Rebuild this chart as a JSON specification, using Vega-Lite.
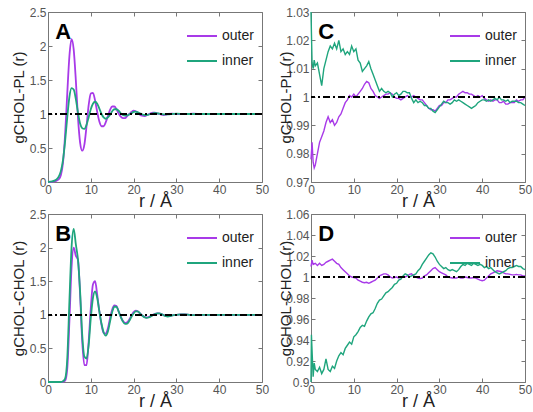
{
  "$schema": "https://vega.github.io/schema/vega-lite/v6.json",
  "background": "white",
  "padding": {"left": 10, "top": 5, "right": 0, "bottom": 0},
  "bounds": "flush",
  "spacing": {"row": 32, "column": 49},
  "config": {
    "font": "Liberation Sans",
    "view": {"stroke": "#777", "strokeWidth": 1},
    "axis": {"grid": false, "domain": false, "labelColor": "#555", "labelFontSize": 12, "tickColor": "#777", "tickSize": -4, "labelPadding": 6, "titleColor": "#222", "titleFontWeight": "normal", "labelFlush": false, "labelOverlap": false},
    "axisX": {"titleFontSize": 18, "titlePadding": -3},
    "axisY": {"titleFontSize": 15, "titlePadding": 3},
    "legend": {"orient": "top-right", "title": null, "symbolType": "stroke", "symbolSize": 900, "symbolStrokeWidth": 2, "labelFontSize": 14, "labelColor": "#222", "rowPadding": 2, "offset": 8}
  },
  "datasets": {
    "A": [
      {"r":0,"s":"outer","g":0},{"r":0.5,"s":"outer","g":0},{"r":1,"s":"outer","g":0.005},{"r":1.5,"s":"outer","g":0.01},{"r":2,"s":"outer","g":0.02},{"r":2.5,"s":"outer","g":0.04},{"r":3,"s":"outer","g":0.1},{"r":3.5,"s":"outer","g":0.28},{"r":4,"s":"outer","g":0.7},{"r":4.5,"s":"outer","g":1.3},{"r":5,"s":"outer","g":1.85},{"r":5.5,"s":"outer","g":2.1},{"r":6,"s":"outer","g":1.95},{"r":6.5,"s":"outer","g":1.5},{"r":7,"s":"outer","g":0.95},{"r":7.5,"s":"outer","g":0.58},{"r":8,"s":"outer","g":0.46},{"r":8.5,"s":"outer","g":0.55},{"r":9,"s":"outer","g":0.82},{"r":9.5,"s":"outer","g":1.13},{"r":10,"s":"outer","g":1.3},{"r":10.5,"s":"outer","g":1.31},{"r":11,"s":"outer","g":1.2},{"r":11.5,"s":"outer","g":1.03},{"r":12,"s":"outer","g":0.89},{"r":12.5,"s":"outer","g":0.82},{"r":13,"s":"outer","g":0.82},{"r":13.5,"s":"outer","g":0.88},{"r":14,"s":"outer","g":0.97},{"r":14.5,"s":"outer","g":1.06},{"r":15,"s":"outer","g":1.11},{"r":15.5,"s":"outer","g":1.11},{"r":16,"s":"outer","g":1.07},{"r":16.5,"s":"outer","g":1.01},{"r":17,"s":"outer","g":0.96},{"r":17.5,"s":"outer","g":0.94},{"r":18,"s":"outer","g":0.94},{"r":18.5,"s":"outer","g":0.97},{"r":19,"s":"outer","g":1.0},{"r":19.5,"s":"outer","g":1.03},{"r":20,"s":"outer","g":1.05},{"r":20.5,"s":"outer","g":1.04},{"r":21,"s":"outer","g":1.02},{"r":21.5,"s":"outer","g":0.99},{"r":22,"s":"outer","g":0.975},{"r":22.5,"s":"outer","g":0.97},{"r":23,"s":"outer","g":0.98},{"r":23.5,"s":"outer","g":0.995},{"r":24,"s":"outer","g":1.01},{"r":24.5,"s":"outer","g":1.02},{"r":25,"s":"outer","g":1.02},{"r":25.5,"s":"outer","g":1.01},{"r":26,"s":"outer","g":1.0},{"r":26.5,"s":"outer","g":0.99},{"r":27,"s":"outer","g":0.985},{"r":27.5,"s":"outer","g":0.99},{"r":28,"s":"outer","g":1.0},{"r":29,"s":"outer","g":1.005},{"r":30,"s":"outer","g":1.0},{"r":32,"s":"outer","g":0.997},{"r":34,"s":"outer","g":1.005},{"r":36,"s":"outer","g":1.0},{"r":38,"s":"outer","g":1.0},{"r":40,"s":"outer","g":1.0},{"r":42,"s":"outer","g":1.0},{"r":44,"s":"outer","g":1.0},{"r":46,"s":"outer","g":1.0},{"r":48,"s":"outer","g":1.0},{"r":50,"s":"outer","g":1.0},
      {"r":0,"s":"inner","g":0},{"r":0.5,"s":"inner","g":0.005},{"r":1,"s":"inner","g":0.01},{"r":1.5,"s":"inner","g":0.02},{"r":2,"s":"inner","g":0.04},{"r":2.5,"s":"inner","g":0.08},{"r":3,"s":"inner","g":0.16},{"r":3.5,"s":"inner","g":0.32},{"r":4,"s":"inner","g":0.6},{"r":4.5,"s":"inner","g":0.95},{"r":5,"s":"inner","g":1.25},{"r":5.5,"s":"inner","g":1.38},{"r":6,"s":"inner","g":1.36},{"r":6.5,"s":"inner","g":1.22},{"r":7,"s":"inner","g":1.02},{"r":7.5,"s":"inner","g":0.86},{"r":8,"s":"inner","g":0.79},{"r":8.5,"s":"inner","g":0.78},{"r":9,"s":"inner","g":0.84},{"r":9.5,"s":"inner","g":0.95},{"r":10,"s":"inner","g":1.07},{"r":10.5,"s":"inner","g":1.15},{"r":11,"s":"inner","g":1.18},{"r":11.5,"s":"inner","g":1.15},{"r":12,"s":"inner","g":1.08},{"r":12.5,"s":"inner","g":1.0},{"r":13,"s":"inner","g":0.95},{"r":13.5,"s":"inner","g":0.93},{"r":14,"s":"inner","g":0.95},{"r":14.5,"s":"inner","g":0.99},{"r":15,"s":"inner","g":1.04},{"r":15.5,"s":"inner","g":1.07},{"r":16,"s":"inner","g":1.07},{"r":16.5,"s":"inner","g":1.05},{"r":17,"s":"inner","g":1.01},{"r":17.5,"s":"inner","g":0.985},{"r":18,"s":"inner","g":0.975},{"r":18.5,"s":"inner","g":0.98},{"r":19,"s":"inner","g":0.995},{"r":19.5,"s":"inner","g":1.01},{"r":20,"s":"inner","g":1.03},{"r":20.5,"s":"inner","g":1.035},{"r":21,"s":"inner","g":1.025},{"r":21.5,"s":"inner","g":1.01},{"r":22,"s":"inner","g":0.995},{"r":22.5,"s":"inner","g":0.985},{"r":23,"s":"inner","g":0.985},{"r":23.5,"s":"inner","g":0.99},{"r":24,"s":"inner","g":1.0},{"r":24.5,"s":"inner","g":1.01},{"r":25,"s":"inner","g":1.015},{"r":25.5,"s":"inner","g":1.01},{"r":26,"s":"inner","g":1.005},{"r":27,"s":"inner","g":0.995},{"r":28,"s":"inner","g":0.995},{"r":29,"s":"inner","g":1.0},{"r":30,"s":"inner","g":1.005},{"r":32,"s":"inner","g":1.0},{"r":34,"s":"inner","g":1.0},{"r":36,"s":"inner","g":1.0},{"r":38,"s":"inner","g":1.0},{"r":40,"s":"inner","g":1.0},{"r":42,"s":"inner","g":1.0},{"r":44,"s":"inner","g":1.0},{"r":46,"s":"inner","g":1.0},{"r":48,"s":"inner","g":1.0},{"r":50,"s":"inner","g":1.0}
    ],
    "B": [
      {"r":0,"s":"outer","g":0},{"r":1,"s":"outer","g":0},{"r":2,"s":"outer","g":0},{"r":3,"s":"outer","g":0},{"r":3.5,"s":"outer","g":0.005},{"r":4,"s":"outer","g":0.02},{"r":4.5,"s":"outer","g":0.2},{"r":5,"s":"outer","g":0.9},{"r":5.5,"s":"outer","g":1.7},{"r":6,"s":"outer","g":2.0},{"r":6.5,"s":"outer","g":1.88},{"r":7,"s":"outer","g":1.82},{"r":7.5,"s":"outer","g":1.3},{"r":8,"s":"outer","g":0.6},{"r":8.5,"s":"outer","g":0.25},{"r":9,"s":"outer","g":0.25},{"r":9.5,"s":"outer","g":0.6},{"r":10,"s":"outer","g":1.1},{"r":10.5,"s":"outer","g":1.45},{"r":11,"s":"outer","g":1.5},{"r":11.5,"s":"outer","g":1.3},{"r":12,"s":"outer","g":1.05},{"r":12.5,"s":"outer","g":0.85},{"r":13,"s":"outer","g":0.73},{"r":13.5,"s":"outer","g":0.72},{"r":14,"s":"outer","g":0.8},{"r":14.5,"s":"outer","g":0.95},{"r":15,"s":"outer","g":1.08},{"r":15.5,"s":"outer","g":1.14},{"r":16,"s":"outer","g":1.13},{"r":16.5,"s":"outer","g":1.05},{"r":17,"s":"outer","g":0.97},{"r":17.5,"s":"outer","g":0.91},{"r":18,"s":"outer","g":0.88},{"r":18.5,"s":"outer","g":0.89},{"r":19,"s":"outer","g":0.93},{"r":19.5,"s":"outer","g":0.99},{"r":20,"s":"outer","g":1.04},{"r":20.5,"s":"outer","g":1.06},{"r":21,"s":"outer","g":1.05},{"r":21.5,"s":"outer","g":1.02},{"r":22,"s":"outer","g":0.99},{"r":22.5,"s":"outer","g":0.97},{"r":23,"s":"outer","g":0.96},{"r":23.5,"s":"outer","g":0.965},{"r":24,"s":"outer","g":0.98},{"r":24.5,"s":"outer","g":1.0},{"r":25,"s":"outer","g":1.015},{"r":25.5,"s":"outer","g":1.02},{"r":26,"s":"outer","g":1.02},{"r":26.5,"s":"outer","g":1.01},{"r":27,"s":"outer","g":0.995},{"r":27.5,"s":"outer","g":0.985},{"r":28,"s":"outer","g":0.98},{"r":28.5,"s":"outer","g":0.985},{"r":29,"s":"outer","g":0.99},{"r":30,"s":"outer","g":1.0},{"r":31,"s":"outer","g":1.005},{"r":32,"s":"outer","g":1.005},{"r":33,"s":"outer","g":1.0},{"r":34,"s":"outer","g":0.995},{"r":36,"s":"outer","g":1.0},{"r":38,"s":"outer","g":1.0},{"r":40,"s":"outer","g":1.0},{"r":42,"s":"outer","g":0.995},{"r":44,"s":"outer","g":1.0},{"r":46,"s":"outer","g":1.0},{"r":48,"s":"outer","g":1.0},{"r":50,"s":"outer","g":1.0},
      {"r":0,"s":"inner","g":0},{"r":1,"s":"inner","g":0},{"r":2,"s":"inner","g":0},{"r":3,"s":"inner","g":0},{"r":3.5,"s":"inner","g":0.01},{"r":4,"s":"inner","g":0.05},{"r":4.5,"s":"inner","g":0.35},{"r":5,"s":"inner","g":1.2},{"r":5.5,"s":"inner","g":2.0},{"r":6,"s":"inner","g":2.28},{"r":6.5,"s":"inner","g":2.05},{"r":7,"s":"inner","g":1.82},{"r":7.5,"s":"inner","g":1.35},{"r":8,"s":"inner","g":0.7},{"r":8.5,"s":"inner","g":0.38},{"r":9,"s":"inner","g":0.35},{"r":9.5,"s":"inner","g":0.55},{"r":10,"s":"inner","g":0.95},{"r":10.5,"s":"inner","g":1.25},{"r":11,"s":"inner","g":1.35},{"r":11.5,"s":"inner","g":1.25},{"r":12,"s":"inner","g":1.05},{"r":12.5,"s":"inner","g":0.87},{"r":13,"s":"inner","g":0.74},{"r":13.5,"s":"inner","g":0.69},{"r":14,"s":"inner","g":0.75},{"r":14.5,"s":"inner","g":0.9},{"r":15,"s":"inner","g":1.04},{"r":15.5,"s":"inner","g":1.12},{"r":16,"s":"inner","g":1.12},{"r":16.5,"s":"inner","g":1.05},{"r":17,"s":"inner","g":0.97},{"r":17.5,"s":"inner","g":0.9},{"r":18,"s":"inner","g":0.865},{"r":18.5,"s":"inner","g":0.87},{"r":19,"s":"inner","g":0.91},{"r":19.5,"s":"inner","g":0.97},{"r":20,"s":"inner","g":1.02},{"r":20.5,"s":"inner","g":1.05},{"r":21,"s":"inner","g":1.05},{"r":21.5,"s":"inner","g":1.02},{"r":22,"s":"inner","g":0.99},{"r":22.5,"s":"inner","g":0.965},{"r":23,"s":"inner","g":0.955},{"r":23.5,"s":"inner","g":0.96},{"r":24,"s":"inner","g":0.975},{"r":24.5,"s":"inner","g":0.995},{"r":25,"s":"inner","g":1.01},{"r":25.5,"s":"inner","g":1.02},{"r":26,"s":"inner","g":1.02},{"r":26.5,"s":"inner","g":1.01},{"r":27,"s":"inner","g":0.995},{"r":27.5,"s":"inner","g":0.98},{"r":28,"s":"inner","g":0.975},{"r":28.5,"s":"inner","g":0.98},{"r":29,"s":"inner","g":0.99},{"r":30,"s":"inner","g":1.0},{"r":31,"s":"inner","g":1.005},{"r":32,"s":"inner","g":1.005},{"r":33,"s":"inner","g":1.0},{"r":34,"s":"inner","g":0.995},{"r":36,"s":"inner","g":1.0},{"r":38,"s":"inner","g":1.0},{"r":40,"s":"inner","g":1.0},{"r":42,"s":"inner","g":1.0},{"r":44,"s":"inner","g":1.0},{"r":46,"s":"inner","g":1.0},{"r":48,"s":"inner","g":1.0},{"r":50,"s":"inner","g":1.0}
    ],
    "C": [
      {"r":0,"s":"outer","g":0.978},{"r":0.25,"s":"outer","g":0.984},{"r":0.5,"s":"outer","g":0.977},{"r":0.75,"s":"outer","g":0.975},{"r":1,"s":"outer","g":0.976},{"r":1.5,"s":"outer","g":0.98},{"r":2,"s":"outer","g":0.984},{"r":2.5,"s":"outer","g":0.986},{"r":3,"s":"outer","g":0.988},{"r":3.5,"s":"outer","g":0.991},{"r":4,"s":"outer","g":0.993},{"r":4.5,"s":"outer","g":0.991},{"r":5,"s":"outer","g":0.992},{"r":5.5,"s":"outer","g":0.99},{"r":6,"s":"outer","g":0.991},{"r":6.5,"s":"outer","g":0.993},{"r":7,"s":"outer","g":0.994},{"r":7.5,"s":"outer","g":0.996},{"r":8,"s":"outer","g":0.998},{"r":8.5,"s":"outer","g":0.999},{"r":9,"s":"outer","g":1.0005},{"r":9.5,"s":"outer","g":1.0},{"r":10,"s":"outer","g":1.001},{"r":10.5,"s":"outer","g":1.0},{"r":11,"s":"outer","g":1.001},{"r":11.5,"s":"outer","g":1.002},{"r":12,"s":"outer","g":1.003},{"r":12.5,"s":"outer","g":1.0045},{"r":13,"s":"outer","g":1.0055},{"r":13.5,"s":"outer","g":1.005},{"r":14,"s":"outer","g":1.003},{"r":14.5,"s":"outer","g":1.002},{"r":15,"s":"outer","g":1.0005},{"r":15.5,"s":"outer","g":1.0},{"r":16,"s":"outer","g":0.9995},{"r":16.5,"s":"outer","g":1.0},{"r":17,"s":"outer","g":1.0005},{"r":17.5,"s":"outer","g":1.001},{"r":18,"s":"outer","g":1.001},{"r":18.5,"s":"outer","g":1.0015},{"r":19,"s":"outer","g":1.001},{"r":19.5,"s":"outer","g":1.0},{"r":20,"s":"outer","g":0.9995},{"r":20.5,"s":"outer","g":0.9995},{"r":21,"s":"outer","g":0.999},{"r":21.5,"s":"outer","g":0.9995},{"r":22,"s":"outer","g":1.0},{"r":22.5,"s":"outer","g":1.0005},{"r":23,"s":"outer","g":1.0},{"r":23.5,"s":"outer","g":1.0},{"r":24,"s":"outer","g":1.0005},{"r":24.5,"s":"outer","g":1.0},{"r":25,"s":"outer","g":0.9995},{"r":25.5,"s":"outer","g":0.999},{"r":26,"s":"outer","g":0.999},{"r":26.5,"s":"outer","g":0.998},{"r":27,"s":"outer","g":0.997},{"r":27.5,"s":"outer","g":0.996},{"r":28,"s":"outer","g":0.9955},{"r":28.5,"s":"outer","g":0.9955},{"r":29,"s":"outer","g":0.995},{"r":29.5,"s":"outer","g":0.996},{"r":30,"s":"outer","g":0.997},{"r":30.5,"s":"outer","g":0.997},{"r":31,"s":"outer","g":0.998},{"r":31.5,"s":"outer","g":0.998},{"r":32,"s":"outer","g":0.999},{"r":32.5,"s":"outer","g":0.999},{"r":33,"s":"outer","g":0.9995},{"r":33.5,"s":"outer","g":1.0},{"r":34,"s":"outer","g":1.0},{"r":34.5,"s":"outer","g":1.001},{"r":35,"s":"outer","g":1.0015},{"r":35.5,"s":"outer","g":1.002},{"r":36,"s":"outer","g":1.0015},{"r":36.5,"s":"outer","g":1.0015},{"r":37,"s":"outer","g":1.001},{"r":37.5,"s":"outer","g":1.001},{"r":38,"s":"outer","g":1.0005},{"r":38.5,"s":"outer","g":1.0},{"r":39,"s":"outer","g":1.0005},{"r":39.5,"s":"outer","g":1.0},{"r":40,"s":"outer","g":1.0005},{"r":40.5,"s":"outer","g":0.9995},{"r":41,"s":"outer","g":0.999},{"r":41.5,"s":"outer","g":0.9985},{"r":42,"s":"outer","g":0.999},{"r":42.5,"s":"outer","g":0.9985},{"r":43,"s":"outer","g":0.999},{"r":43.5,"s":"outer","g":0.999},{"r":44,"s":"outer","g":0.998},{"r":44.5,"s":"outer","g":0.998},{"r":45,"s":"outer","g":0.9985},{"r":45.5,"s":"outer","g":0.9975},{"r":46,"s":"outer","g":0.9975},{"r":46.5,"s":"outer","g":0.998},{"r":47,"s":"outer","g":0.998},{"r":47.5,"s":"outer","g":0.998},{"r":48,"s":"outer","g":0.999},{"r":48.5,"s":"outer","g":0.9985},{"r":49,"s":"outer","g":0.999},{"r":49.5,"s":"outer","g":0.999},{"r":50,"s":"outer","g":1.0},
      {"r":0,"s":"inner","g":1.03},{"r":0.25,"s":"inner","g":1.012},{"r":0.5,"s":"inner","g":1.01},{"r":0.75,"s":"inner","g":1.013},{"r":1,"s":"inner","g":1.011},{"r":1.5,"s":"inner","g":1.012},{"r":2,"s":"inner","g":1.008},{"r":2.5,"s":"inner","g":1.004},{"r":3,"s":"inner","g":1.01},{"r":3.5,"s":"inner","g":1.013},{"r":4,"s":"inner","g":1.016},{"r":4.5,"s":"inner","g":1.018},{"r":5,"s":"inner","g":1.017},{"r":5.5,"s":"inner","g":1.019},{"r":6,"s":"inner","g":1.017},{"r":6.5,"s":"inner","g":1.02},{"r":7,"s":"inner","g":1.016},{"r":7.5,"s":"inner","g":1.017},{"r":8,"s":"inner","g":1.015},{"r":8.5,"s":"inner","g":1.016},{"r":9,"s":"inner","g":1.015},{"r":9.5,"s":"inner","g":1.018},{"r":10,"s":"inner","g":1.016},{"r":10.5,"s":"inner","g":1.017},{"r":11,"s":"inner","g":1.013},{"r":11.5,"s":"inner","g":1.012},{"r":12,"s":"inner","g":1.009},{"r":12.5,"s":"inner","g":1.01},{"r":13,"s":"inner","g":1.011},{"r":13.5,"s":"inner","g":1.0125},{"r":14,"s":"inner","g":1.01},{"r":14.5,"s":"inner","g":1.008},{"r":15,"s":"inner","g":1.006},{"r":15.5,"s":"inner","g":1.004},{"r":16,"s":"inner","g":1.002},{"r":16.5,"s":"inner","g":1.003},{"r":17,"s":"inner","g":1.002},{"r":17.5,"s":"inner","g":1.0015},{"r":18,"s":"inner","g":1.002},{"r":18.5,"s":"inner","g":1.0015},{"r":19,"s":"inner","g":1.0},{"r":19.5,"s":"inner","g":1.001},{"r":20,"s":"inner","g":1.0015},{"r":20.5,"s":"inner","g":1.0005},{"r":21,"s":"inner","g":1.001},{"r":21.5,"s":"inner","g":1.002},{"r":22,"s":"inner","g":1.002},{"r":22.5,"s":"inner","g":1.0015},{"r":23,"s":"inner","g":1.0015},{"r":23.5,"s":"inner","g":0.9995},{"r":24,"s":"inner","g":0.998},{"r":24.5,"s":"inner","g":0.999},{"r":25,"s":"inner","g":0.998},{"r":25.5,"s":"inner","g":0.9985},{"r":26,"s":"inner","g":0.998},{"r":26.5,"s":"inner","g":0.997},{"r":27,"s":"inner","g":0.997},{"r":27.5,"s":"inner","g":0.996},{"r":28,"s":"inner","g":0.996},{"r":28.5,"s":"inner","g":0.995},{"r":29,"s":"inner","g":0.9945},{"r":29.5,"s":"inner","g":0.9955},{"r":30,"s":"inner","g":0.9965},{"r":30.5,"s":"inner","g":0.9975},{"r":31,"s":"inner","g":0.9985},{"r":31.5,"s":"inner","g":0.998},{"r":32,"s":"inner","g":0.998},{"r":32.5,"s":"inner","g":0.9975},{"r":33,"s":"inner","g":0.998},{"r":33.5,"s":"inner","g":0.999},{"r":34,"s":"inner","g":0.9985},{"r":34.5,"s":"inner","g":0.999},{"r":35,"s":"inner","g":0.9985},{"r":35.5,"s":"inner","g":0.998},{"r":36,"s":"inner","g":0.9975},{"r":36.5,"s":"inner","g":0.997},{"r":37,"s":"inner","g":0.9965},{"r":37.5,"s":"inner","g":0.996},{"r":38,"s":"inner","g":0.9965},{"r":38.5,"s":"inner","g":0.997},{"r":39,"s":"inner","g":0.998},{"r":39.5,"s":"inner","g":0.9985},{"r":40,"s":"inner","g":0.999},{"r":40.5,"s":"inner","g":0.999},{"r":41,"s":"inner","g":0.9985},{"r":41.5,"s":"inner","g":0.999},{"r":42,"s":"inner","g":0.9985},{"r":42.5,"s":"inner","g":0.999},{"r":43,"s":"inner","g":0.9995},{"r":43.5,"s":"inner","g":0.999},{"r":44,"s":"inner","g":1.0},{"r":44.5,"s":"inner","g":0.999},{"r":45,"s":"inner","g":0.999},{"r":45.5,"s":"inner","g":0.9985},{"r":46,"s":"inner","g":0.999},{"r":46.5,"s":"inner","g":0.998},{"r":47,"s":"inner","g":0.9985},{"r":47.5,"s":"inner","g":0.9985},{"r":48,"s":"inner","g":0.9985},{"r":48.5,"s":"inner","g":0.998},{"r":49,"s":"inner","g":0.998},{"r":49.5,"s":"inner","g":0.9975},{"r":50,"s":"inner","g":0.997}
    ],
    "D": [
      {"r":0,"s":"outer","g":1.01},{"r":0.25,"s":"outer","g":1.016},{"r":0.5,"s":"outer","g":1.012},{"r":1,"s":"outer","g":1.013},{"r":1.5,"s":"outer","g":1.011},{"r":2,"s":"outer","g":1.013},{"r":2.5,"s":"outer","g":1.011},{"r":3,"s":"outer","g":1.012},{"r":3.5,"s":"outer","g":1.014},{"r":4,"s":"outer","g":1.015},{"r":4.5,"s":"outer","g":1.016},{"r":5,"s":"outer","g":1.017},{"r":5.5,"s":"outer","g":1.015},{"r":6,"s":"outer","g":1.013},{"r":6.5,"s":"outer","g":1.012},{"r":7,"s":"outer","g":1.009},{"r":7.5,"s":"outer","g":1.007},{"r":8,"s":"outer","g":1.005},{"r":8.5,"s":"outer","g":1.003},{"r":9,"s":"outer","g":1.001},{"r":9.5,"s":"outer","g":1.0},{"r":10,"s":"outer","g":0.9995},{"r":10.5,"s":"outer","g":0.999},{"r":11,"s":"outer","g":0.997},{"r":11.5,"s":"outer","g":0.996},{"r":12,"s":"outer","g":0.995},{"r":12.5,"s":"outer","g":0.9945},{"r":13,"s":"outer","g":0.995},{"r":13.5,"s":"outer","g":0.994},{"r":14,"s":"outer","g":0.995},{"r":14.5,"s":"outer","g":0.996},{"r":15,"s":"outer","g":0.997},{"r":15.5,"s":"outer","g":0.999},{"r":16,"s":"outer","g":1.001},{"r":16.5,"s":"outer","g":1.002},{"r":17,"s":"outer","g":1.003},{"r":17.5,"s":"outer","g":1.003},{"r":18,"s":"outer","g":1.002},{"r":18.5,"s":"outer","g":1.0},{"r":19,"s":"outer","g":0.999},{"r":19.5,"s":"outer","g":0.9995},{"r":20,"s":"outer","g":1.0},{"r":20.5,"s":"outer","g":0.999},{"r":21,"s":"outer","g":0.9995},{"r":21.5,"s":"outer","g":1.0},{"r":22,"s":"outer","g":1.0},{"r":22.5,"s":"outer","g":1.001},{"r":23,"s":"outer","g":1.0025},{"r":23.5,"s":"outer","g":1.003},{"r":24,"s":"outer","g":1.001},{"r":24.5,"s":"outer","g":1.0},{"r":25,"s":"outer","g":0.999},{"r":25.5,"s":"outer","g":0.9985},{"r":26,"s":"outer","g":0.999},{"r":26.5,"s":"outer","g":1.001},{"r":27,"s":"outer","g":1.002},{"r":27.5,"s":"outer","g":1.004},{"r":28,"s":"outer","g":1.006},{"r":28.5,"s":"outer","g":1.008},{"r":29,"s":"outer","g":1.009},{"r":29.5,"s":"outer","g":1.007},{"r":30,"s":"outer","g":1.005},{"r":30.5,"s":"outer","g":1.004},{"r":31,"s":"outer","g":1.003},{"r":31.5,"s":"outer","g":1.002},{"r":32,"s":"outer","g":1.0},{"r":32.5,"s":"outer","g":0.9995},{"r":33,"s":"outer","g":0.999},{"r":33.5,"s":"outer","g":0.999},{"r":34,"s":"outer","g":0.999},{"r":34.5,"s":"outer","g":1.0},{"r":35,"s":"outer","g":0.999},{"r":35.5,"s":"outer","g":0.999},{"r":36,"s":"outer","g":1.0},{"r":36.5,"s":"outer","g":0.9995},{"r":37,"s":"outer","g":0.999},{"r":37.5,"s":"outer","g":0.999},{"r":38,"s":"outer","g":0.9995},{"r":38.5,"s":"outer","g":0.999},{"r":39,"s":"outer","g":0.998},{"r":39.5,"s":"outer","g":0.997},{"r":40,"s":"outer","g":0.9965},{"r":40.5,"s":"outer","g":0.997},{"r":41,"s":"outer","g":0.999},{"r":41.5,"s":"outer","g":1.001},{"r":42,"s":"outer","g":1.003},{"r":42.5,"s":"outer","g":1.004},{"r":43,"s":"outer","g":1.005},{"r":43.5,"s":"outer","g":1.006},{"r":44,"s":"outer","g":1.0055},{"r":44.5,"s":"outer","g":1.005},{"r":45,"s":"outer","g":1.004},{"r":45.5,"s":"outer","g":1.003},{"r":46,"s":"outer","g":1.003},{"r":46.5,"s":"outer","g":1.0025},{"r":47,"s":"outer","g":1.002},{"r":47.5,"s":"outer","g":1.002},{"r":48,"s":"outer","g":1.0025},{"r":48.5,"s":"outer","g":1.002},{"r":49,"s":"outer","g":1.002},{"r":49.5,"s":"outer","g":1.001},{"r":50,"s":"outer","g":1.001},
      {"r":0,"s":"inner","g":0.9},{"r":0.1,"s":"inner","g":0.945},{"r":0.3,"s":"inner","g":0.925},{"r":0.5,"s":"inner","g":0.905},{"r":0.75,"s":"inner","g":0.918},{"r":1,"s":"inner","g":0.912},{"r":1.5,"s":"inner","g":0.91},{"r":2,"s":"inner","g":0.914},{"r":2.5,"s":"inner","g":0.908},{"r":3,"s":"inner","g":0.912},{"r":3.5,"s":"inner","g":0.922},{"r":4,"s":"inner","g":0.912},{"r":4.5,"s":"inner","g":0.91},{"r":5,"s":"inner","g":0.915},{"r":5.5,"s":"inner","g":0.913},{"r":6,"s":"inner","g":0.92},{"r":6.5,"s":"inner","g":0.925},{"r":7,"s":"inner","g":0.928},{"r":7.5,"s":"inner","g":0.926},{"r":8,"s":"inner","g":0.932},{"r":8.5,"s":"inner","g":0.935},{"r":9,"s":"inner","g":0.938},{"r":9.5,"s":"inner","g":0.936},{"r":10,"s":"inner","g":0.943},{"r":10.5,"s":"inner","g":0.945},{"r":11,"s":"inner","g":0.948},{"r":11.5,"s":"inner","g":0.952},{"r":12,"s":"inner","g":0.954},{"r":12.5,"s":"inner","g":0.953},{"r":13,"s":"inner","g":0.958},{"r":13.5,"s":"inner","g":0.962},{"r":14,"s":"inner","g":0.965},{"r":14.5,"s":"inner","g":0.966},{"r":15,"s":"inner","g":0.97},{"r":15.5,"s":"inner","g":0.975},{"r":16,"s":"inner","g":0.978},{"r":16.5,"s":"inner","g":0.979},{"r":17,"s":"inner","g":0.982},{"r":17.5,"s":"inner","g":0.985},{"r":18,"s":"inner","g":0.986},{"r":18.5,"s":"inner","g":0.988},{"r":19,"s":"inner","g":0.99},{"r":19.5,"s":"inner","g":0.993},{"r":20,"s":"inner","g":0.994},{"r":20.5,"s":"inner","g":0.997},{"r":21,"s":"inner","g":0.998},{"r":21.5,"s":"inner","g":1.001},{"r":22,"s":"inner","g":1.003},{"r":22.5,"s":"inner","g":1.002},{"r":23,"s":"inner","g":1.0},{"r":23.5,"s":"inner","g":1.001},{"r":24,"s":"inner","g":1.002},{"r":24.5,"s":"inner","g":1.003},{"r":25,"s":"inner","g":1.006},{"r":25.5,"s":"inner","g":1.008},{"r":26,"s":"inner","g":1.012},{"r":26.5,"s":"inner","g":1.015},{"r":27,"s":"inner","g":1.018},{"r":27.5,"s":"inner","g":1.021},{"r":28,"s":"inner","g":1.023},{"r":28.5,"s":"inner","g":1.022},{"r":29,"s":"inner","g":1.019},{"r":29.5,"s":"inner","g":1.015},{"r":30,"s":"inner","g":1.012},{"r":30.5,"s":"inner","g":1.01},{"r":31,"s":"inner","g":1.008},{"r":31.5,"s":"inner","g":1.009},{"r":32,"s":"inner","g":1.007},{"r":32.5,"s":"inner","g":1.006},{"r":33,"s":"inner","g":1.007},{"r":33.5,"s":"inner","g":1.006},{"r":34,"s":"inner","g":1.005},{"r":34.5,"s":"inner","g":1.007},{"r":35,"s":"inner","g":1.01},{"r":35.5,"s":"inner","g":1.012},{"r":36,"s":"inner","g":1.011},{"r":36.5,"s":"inner","g":1.013},{"r":37,"s":"inner","g":1.012},{"r":37.5,"s":"inner","g":1.011},{"r":38,"s":"inner","g":1.013},{"r":38.5,"s":"inner","g":1.012},{"r":39,"s":"inner","g":1.011},{"r":39.5,"s":"inner","g":1.012},{"r":40,"s":"inner","g":1.011},{"r":40.5,"s":"inner","g":1.009},{"r":41,"s":"inner","g":1.01},{"r":41.5,"s":"inner","g":1.008},{"r":42,"s":"inner","g":1.009},{"r":42.5,"s":"inner","g":1.007},{"r":43,"s":"inner","g":1.005},{"r":43.5,"s":"inner","g":1.004},{"r":44,"s":"inner","g":1.003},{"r":44.5,"s":"inner","g":1.004},{"r":45,"s":"inner","g":1.005},{"r":45.5,"s":"inner","g":1.006},{"r":46,"s":"inner","g":1.008},{"r":46.5,"s":"inner","g":1.009},{"r":47,"s":"inner","g":1.009},{"r":47.5,"s":"inner","g":1.01},{"r":48,"s":"inner","g":1.011},{"r":48.5,"s":"inner","g":1.01},{"r":49,"s":"inner","g":1.01},{"r":49.5,"s":"inner","g":1.008},{"r":50,"s":"inner","g":1.007}
    ]
  },
  "columns": 2,
  "resolve": {"scale": {"color": "independent", "y": "independent", "x": "independent"}, "legend": {"color": "independent"}},
  "concat": [
    {
      "width": 214, "height": 170,
      "resolve": {"axis": {"x": "independent", "y": "independent"}},
      "layer": [
        {"data": {"name": "A"}, "mark": {"type": "line", "strokeWidth": 1.8, "interpolate": "monotone"},
         "encoding": {
           "x": {"field": "r", "type": "quantitative", "scale": {"domain": [0, 50], "nice": false}, "axis": {"orient": "bottom", "title": "r / Å", "values": [0,10,20,30,40,50]}},
           "y": {"field": "g", "type": "quantitative", "scale": {"domain": [0, 2.5], "nice": false}, "axis": {"orient": "left", "title": "gCHOL-PL (r)", "values": [0,0.5,1,1.5,2,2.5], "format": "~g"}},
           "color": {"field": "s", "type": "nominal", "scale": {"domain": ["outer", "inner"], "range": ["#a83ae8", "#1fa57d"]}},
           "order": {"field": "r", "type": "quantitative"}
         }},
        {"data": {"name": "A"}, "mark": {"type": "rule", "color": "black", "strokeWidth": 1.2, "strokeDash": [7, 3, 2, 3]}, "encoding": {"y": {"datum": 1, "axis": null}}},
        {"data": {"values": [{"label": "A"}]}, "mark": {"type": "text", "fontSize": 22, "fontWeight": "bold", "color": "black", "align": "left", "baseline": "alphabetic"},
         "encoding": {
           "text": {"field": "label"},
           "x": {"datum": 1.7, "type": "quantitative", "axis": {"orient": "top", "labels": false, "title": null, "values": [0,10,20,30,40,50]}},
           "y": {"datum": 2.1, "type": "quantitative", "axis": {"orient": "right", "labels": false, "title": null, "values": [0,0.5,1,1.5,2,2.5]}}
         }}
      ]
    },
    {
      "width": 214, "height": 170,
      "resolve": {"axis": {"x": "independent", "y": "independent"}},
      "layer": [
        {"data": {"name": "C"}, "mark": {"type": "line", "strokeWidth": 1.4},
         "encoding": {
           "x": {"field": "r", "type": "quantitative", "scale": {"domain": [0, 50], "nice": false}, "axis": {"orient": "bottom", "title": "r / Å", "values": [0,10,20,30,40,50]}},
           "y": {"field": "g", "type": "quantitative", "scale": {"domain": [0.97, 1.03], "nice": false, "zero": false}, "axis": {"orient": "left", "title": "gCHOL-PL (r)", "titlePadding": -8, "values": [0.97,0.98,0.99,1,1.01,1.02,1.03], "format": "~g"}},
           "color": {"field": "s", "type": "nominal", "scale": {"domain": ["outer", "inner"], "range": ["#a83ae8", "#1fa57d"]}},
           "order": {"field": "r", "type": "quantitative"}
         }},
        {"data": {"name": "C"}, "mark": {"type": "rule", "color": "black", "strokeWidth": 1.2, "strokeDash": [7, 3, 2, 3]}, "encoding": {"y": {"datum": 1, "axis": null}}},
        {"data": {"values": [{"label": "C"}]}, "mark": {"type": "text", "fontSize": 22, "fontWeight": "bold", "color": "black", "align": "left", "baseline": "alphabetic"},
         "encoding": {
           "text": {"field": "label"},
           "x": {"datum": 1.7, "type": "quantitative", "axis": {"orient": "top", "labels": false, "title": null, "values": [0,10,20,30,40,50]}},
           "y": {"datum": 1.0205, "type": "quantitative", "axis": {"orient": "right", "labels": false, "title": null, "values": [0.97,0.98,0.99,1,1.01,1.02,1.03]}}
         }}
      ]
    },
    {
      "width": 214, "height": 168,
      "resolve": {"axis": {"x": "independent", "y": "independent"}},
      "layer": [
        {"data": {"name": "B"}, "mark": {"type": "line", "strokeWidth": 1.8, "interpolate": "monotone"},
         "encoding": {
           "x": {"field": "r", "type": "quantitative", "scale": {"domain": [0, 50], "nice": false}, "axis": {"orient": "bottom", "title": "r / Å", "values": [0,10,20,30,40,50]}},
           "y": {"field": "g", "type": "quantitative", "scale": {"domain": [0, 2.5], "nice": false}, "axis": {"orient": "left", "title": "gCHOL-CHOL (r)", "values": [0,0.5,1,1.5,2,2.5], "format": "~g"}},
           "color": {"field": "s", "type": "nominal", "scale": {"domain": ["outer", "inner"], "range": ["#a83ae8", "#1fa57d"]}},
           "order": {"field": "r", "type": "quantitative"}
         }},
        {"data": {"name": "B"}, "mark": {"type": "rule", "color": "black", "strokeWidth": 1.2, "strokeDash": [7, 3, 2, 3]}, "encoding": {"y": {"datum": 1, "axis": null}}},
        {"data": {"values": [{"label": "B"}]}, "mark": {"type": "text", "fontSize": 22, "fontWeight": "bold", "color": "black", "align": "left", "baseline": "alphabetic"},
         "encoding": {
           "text": {"field": "label"},
           "x": {"datum": 1.7, "type": "quantitative", "axis": {"orient": "top", "labels": false, "title": null, "values": [0,10,20,30,40,50]}},
           "y": {"datum": 2.1, "type": "quantitative", "axis": {"orient": "right", "labels": false, "title": null, "values": [0,0.5,1,1.5,2,2.5]}}
         }}
      ]
    },
    {
      "width": 214, "height": 168,
      "resolve": {"axis": {"x": "independent", "y": "independent"}},
      "layer": [
        {"data": {"name": "D"}, "mark": {"type": "line", "strokeWidth": 1.4},
         "encoding": {
           "x": {"field": "r", "type": "quantitative", "scale": {"domain": [0, 50], "nice": false}, "axis": {"orient": "bottom", "title": "r / Å", "values": [0,10,20,30,40,50]}},
           "y": {"field": "g", "type": "quantitative", "scale": {"domain": [0.9, 1.06], "nice": false, "zero": false}, "axis": {"orient": "left", "title": "gCHOL-CHOL (r)", "titlePadding": -8, "values": [0.9,0.92,0.94,0.96,0.98,1,1.02,1.04,1.06], "format": "~g"}},
           "color": {"field": "s", "type": "nominal", "scale": {"domain": ["outer", "inner"], "range": ["#a83ae8", "#1fa57d"]}},
           "order": {"field": "r", "type": "quantitative"}
         }},
        {"data": {"name": "D"}, "mark": {"type": "rule", "color": "black", "strokeWidth": 1.2, "strokeDash": [7, 3, 2, 3]}, "encoding": {"y": {"datum": 1, "axis": null}}},
        {"data": {"values": [{"label": "D"}]}, "mark": {"type": "text", "fontSize": 22, "fontWeight": "bold", "color": "black", "align": "left", "baseline": "alphabetic"},
         "encoding": {
           "text": {"field": "label"},
           "x": {"datum": 1.7, "type": "quantitative", "axis": {"orient": "top", "labels": false, "title": null, "values": [0,10,20,30,40,50]}},
           "y": {"datum": 1.034, "type": "quantitative", "axis": {"orient": "right", "labels": false, "title": null, "values": [0.9,0.92,0.94,0.96,0.98,1,1.02,1.04,1.06]}}
         }}
      ]
    }
  ]
}
